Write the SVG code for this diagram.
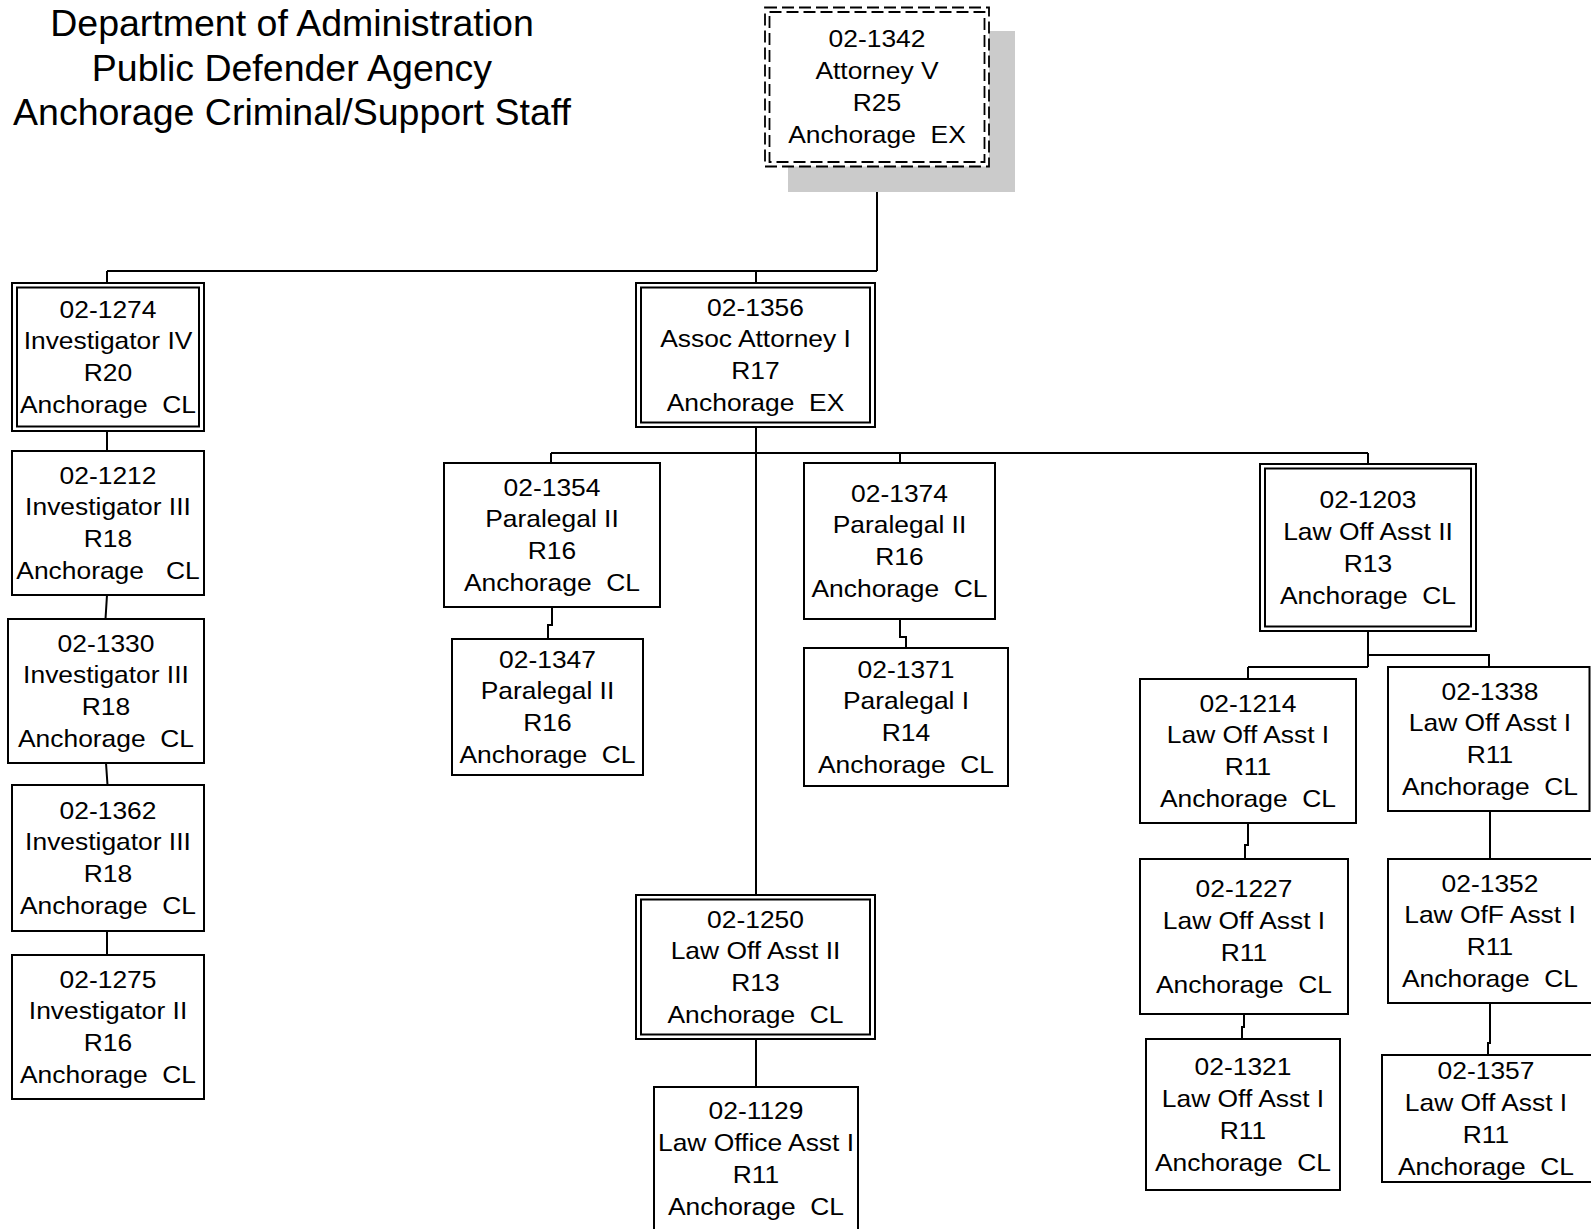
<svg xmlns="http://www.w3.org/2000/svg" width="1591" height="1229" viewBox="0 0 1591 1229">
<style>
.bx{fill:#fff;stroke:#000;stroke-width:2}
.in{fill:none;stroke:#000;stroke-width:2}
.ds{fill:#fff;stroke:#000;stroke-width:1.8;stroke-dasharray:12 5}
.dsi{fill:none;stroke:#000;stroke-width:1.8;stroke-dasharray:12 5}
.sh{fill:#cbcbcb}
.t{font-family:"Liberation Sans",Arial,sans-serif;font-size:24px;fill:#000;text-anchor:middle;white-space:pre}
.ti{font-family:"Liberation Sans",Arial,sans-serif;font-size:37.5px;fill:#000;text-anchor:middle}
.cn{fill:none;stroke:#000;stroke-width:2}
</style>
<rect width="1591" height="1229" fill="#fff"/>
<g id="title">
<text class="ti" x="292" y="36">Department of Administration</text>
<text class="ti" x="292" y="81">Public Defender Agency</text>
<text class="ti" x="292" y="125">Anchorage Criminal/Support Staff</text>
</g>
<g id="connectors">
<path class="cn" d="M877,166 V271 M107,271 H877 M107,271 V283 M756,271 V283"/>
<path class="cn" d="M107,431 V451 M107,595 L105.5,619 M106,763 L107.5,785 M107,931 V955"/>
<path class="cn" d="M756,427 V895 M551,453 H1368 M551,453 V463 M900,453 V463 M1368,453 V464"/>
<path class="cn" d="M552,607 V625 H548 V639"/>
<path class="cn" d="M900,619 V637 H906 V648"/>
<path class="cn" d="M1368,631 V667 M1248,667 H1368 M1248,667 V679 M1368,655 H1489 V667"/>
<path class="cn" d="M1248,823 V845 H1245 V859"/>
<path class="cn" d="M1244,1014 V1027 H1242 V1039"/>
<path class="cn" d="M1490,811 V859"/>
<path class="cn" d="M1490,1003 V1043 H1488 V1055"/>
<path class="cn" d="M756,1039 V1087"/>
</g>
<g id="n1342">
<rect class="sh" x="788" y="31" width="227" height="161"/>
<rect class="ds" x="765" y="7.5" width="224" height="159"/>
<rect class="dsi" x="769.5" y="12" width="215" height="150"/>
<text class="t" transform="translate(877,47) scale(1.1,1)"><tspan x="0" y="0">02-1342</tspan><tspan x="0" y="32">Attorney V</tspan><tspan x="0" y="64">R25</tspan><tspan x="0" y="96">Anchorage  EX</tspan></text>
</g>
<g id="n1274">
<rect class="bx" x="12" y="283" width="192" height="148"/>
<rect class="in" x="17" y="287.5" width="182" height="139"/>
<text class="t" transform="translate(108,317.5) scale(1.1,1)"><tspan x="0" y="0">02-1274</tspan><tspan x="0" y="32">Investigator IV</tspan><tspan x="0" y="64">R20</tspan><tspan x="0" y="96">Anchorage  CL</tspan></text>
</g>
<g id="n1212">
<rect class="bx" x="12" y="451" width="192" height="144"/>
<text class="t" transform="translate(108,483.5) scale(1.1,1)"><tspan x="0" y="0">02-1212</tspan><tspan x="0" y="32">Investigator III</tspan><tspan x="0" y="64">R18</tspan><tspan x="0" y="96">Anchorage   CL</tspan></text>
</g>
<g id="n1330">
<rect class="bx" x="8" y="619" width="196" height="144"/>
<text class="t" transform="translate(106,651.5) scale(1.1,1)"><tspan x="0" y="0">02-1330</tspan><tspan x="0" y="32">Investigator III</tspan><tspan x="0" y="64">R18</tspan><tspan x="0" y="96">Anchorage  CL</tspan></text>
</g>
<g id="n1362">
<rect class="bx" x="12" y="785" width="192" height="146"/>
<text class="t" transform="translate(108,818.5) scale(1.1,1)"><tspan x="0" y="0">02-1362</tspan><tspan x="0" y="32">Investigator III</tspan><tspan x="0" y="64">R18</tspan><tspan x="0" y="96">Anchorage  CL</tspan></text>
</g>
<g id="n1275">
<rect class="bx" x="12" y="955" width="192" height="144"/>
<text class="t" transform="translate(108,987.5) scale(1.1,1)"><tspan x="0" y="0">02-1275</tspan><tspan x="0" y="32">Investigator II</tspan><tspan x="0" y="64">R16</tspan><tspan x="0" y="96">Anchorage  CL</tspan></text>
</g>
<g id="n1356">
<rect class="bx" x="636" y="283" width="239" height="144"/>
<rect class="in" x="641" y="287.5" width="229" height="135"/>
<text class="t" transform="translate(755.5,315.5) scale(1.1,1)"><tspan x="0" y="0">02-1356</tspan><tspan x="0" y="32">Assoc Attorney I</tspan><tspan x="0" y="64">R17</tspan><tspan x="0" y="96">Anchorage  EX</tspan></text>
</g>
<g id="n1354">
<rect class="bx" x="444" y="463" width="216" height="144"/>
<text class="t" transform="translate(552,495.5) scale(1.1,1)"><tspan x="0" y="0">02-1354</tspan><tspan x="0" y="32">Paralegal II</tspan><tspan x="0" y="64">R16</tspan><tspan x="0" y="96">Anchorage  CL</tspan></text>
</g>
<g id="n1347">
<rect class="bx" x="452" y="639" width="191" height="136"/>
<text class="t" transform="translate(547.5,667.5) scale(1.1,1)"><tspan x="0" y="0">02-1347</tspan><tspan x="0" y="32">Paralegal II</tspan><tspan x="0" y="64">R16</tspan><tspan x="0" y="96">Anchorage  CL</tspan></text>
</g>
<g id="n1374">
<rect class="bx" x="804" y="463" width="191" height="156"/>
<text class="t" transform="translate(899.5,501.5) scale(1.1,1)"><tspan x="0" y="0">02-1374</tspan><tspan x="0" y="32">Paralegal II</tspan><tspan x="0" y="64">R16</tspan><tspan x="0" y="96">Anchorage  CL</tspan></text>
</g>
<g id="n1371">
<rect class="bx" x="804" y="648" width="204" height="138"/>
<text class="t" transform="translate(906,677.5) scale(1.1,1)"><tspan x="0" y="0">02-1371</tspan><tspan x="0" y="32">Paralegal I</tspan><tspan x="0" y="64">R14</tspan><tspan x="0" y="96">Anchorage  CL</tspan></text>
</g>
<g id="n1203">
<rect class="bx" x="1260" y="464" width="216" height="167"/>
<rect class="in" x="1265" y="468.5" width="206" height="158"/>
<text class="t" transform="translate(1368,508) scale(1.1,1)"><tspan x="0" y="0">02-1203</tspan><tspan x="0" y="32">Law Off Asst II</tspan><tspan x="0" y="64">R13</tspan><tspan x="0" y="96">Anchorage  CL</tspan></text>
</g>
<g id="n1214">
<rect class="bx" x="1140" y="679" width="216" height="144"/>
<text class="t" transform="translate(1248,711.5) scale(1.1,1)"><tspan x="0" y="0">02-1214</tspan><tspan x="0" y="32">Law Off Asst I</tspan><tspan x="0" y="64">R11</tspan><tspan x="0" y="96">Anchorage  CL</tspan></text>
</g>
<g id="n1338">
<rect class="bx" x="1388" y="667" width="201.5" height="144"/>
<text class="t" transform="translate(1490,699.5) scale(1.1,1)"><tspan x="0" y="0">02-1338</tspan><tspan x="0" y="32">Law Off Asst I</tspan><tspan x="0" y="64">R11</tspan><tspan x="0" y="96">Anchorage  CL</tspan></text>
</g>
<g id="n1227">
<rect class="bx" x="1140" y="859" width="208" height="155"/>
<text class="t" transform="translate(1244,897) scale(1.1,1)"><tspan x="0" y="0">02-1227</tspan><tspan x="0" y="32">Law Off Asst I</tspan><tspan x="0" y="64">R11</tspan><tspan x="0" y="96">Anchorage  CL</tspan></text>
</g>
<g id="n1321">
<rect class="bx" x="1146" y="1039" width="194" height="151"/>
<text class="t" transform="translate(1243,1075) scale(1.1,1)"><tspan x="0" y="0">02-1321</tspan><tspan x="0" y="32">Law Off Asst I</tspan><tspan x="0" y="64">R11</tspan><tspan x="0" y="96">Anchorage  CL</tspan></text>
</g>
<g id="n1352">
<rect class="bx" x="1388" y="859" width="205" height="144"/>
<text class="t" transform="translate(1490,891.5) scale(1.1,1)"><tspan x="0" y="0">02-1352</tspan><tspan x="0" y="32">Law OfF Asst I</tspan><tspan x="0" y="64">R11</tspan><tspan x="0" y="96">Anchorage  CL</tspan></text>
</g>
<g id="n1357">
<rect class="bx" x="1382" y="1055" width="211" height="127"/>
<text class="t" transform="translate(1486,1079) scale(1.1,1)"><tspan x="0" y="0">02-1357</tspan><tspan x="0" y="32">Law Off Asst I</tspan><tspan x="0" y="64">R11</tspan><tspan x="0" y="96">Anchorage  CL</tspan></text>
</g>
<g id="n1250">
<rect class="bx" x="636" y="895" width="239" height="144"/>
<rect class="in" x="641" y="899.5" width="229" height="135"/>
<text class="t" transform="translate(755.5,927.5) scale(1.1,1)"><tspan x="0" y="0">02-1250</tspan><tspan x="0" y="32">Law Off Asst II</tspan><tspan x="0" y="64">R13</tspan><tspan x="0" y="96">Anchorage  CL</tspan></text>
</g>
<g id="n1129">
<rect class="bx" x="654" y="1087" width="204" height="160"/>
<text class="t" transform="translate(756,1119) scale(1.1,1)"><tspan x="0" y="0">02-1129</tspan><tspan x="0" y="32">Law Office Asst I</tspan><tspan x="0" y="64">R11</tspan><tspan x="0" y="96">Anchorage  CL</tspan></text>
</g>
</svg>
